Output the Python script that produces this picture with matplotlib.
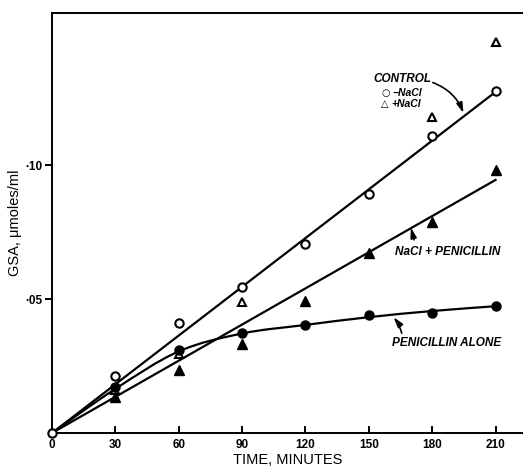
import numpy as np
import matplotlib
matplotlib.use("Agg")
import matplotlib.pyplot as plt
from matplotlib.path import Path
from matplotlib.patches import PathPatch

plt.rcParams['font.family'] = ['Liberation Sans', 'DejaVu Sans']

# ---- data ----
times = [0, 30, 60, 90, 120, 150, 180, 210]
control_minus_nacl = [0.0, 0.0214, 0.0413, 0.0547, 0.0705, 0.0893, 0.1112, 0.1280]
control_plus_nacl_t = [30, 60, 90, 180, 210]
control_plus_nacl = [0.0160, 0.0295, 0.0490, 0.1180, 0.1463]
nacl_pen_t = [30, 60, 90, 120, 150, 180, 210]
nacl_penicillin = [0.0133, 0.0236, 0.0334, 0.0494, 0.0672, 0.0790, 0.0984]
pen_alone_t = [30, 60, 90, 120, 150, 180, 210]
penicillin_alone = [0.0173, 0.0312, 0.0373, 0.0404, 0.0441, 0.0450, 0.0476]

# drawn fit lines/curve
fit_t = [0, 210]
control_fit = [0.0, 0.1275]
nacl_pen_fit = [0.0, 0.0946]
curve_t = [0, 30, 60, 90, 120, 150, 180, 210]
pen_curve = [0.0, 0.0165, 0.0305, 0.0372, 0.0404, 0.0433, 0.0456, 0.0474]

xticks = [0, 30, 60, 90, 120, 150, 180, 210]
yticks = [0.05, 0.10]
ytick_labels = ['·05', '·10']

fig = plt.figure(figsize=(5.23, 4.66), dpi=100)
ax = fig.add_axes([52/523, 33/466, 1 - 52/523, 420/466])
ax.set_xlim(0, 223)
ax.set_ylim(0, 0.157)

lw = 1.6
ax.plot(fit_t, control_fit, color='black', lw=lw, zorder=2)
ax.plot(fit_t, nacl_pen_fit, color='black', lw=lw, zorder=2)

# smooth curve (Catmull-Rom -> cubic Bezier) through the read curve points
pts = np.column_stack([curve_t, pen_curve]).astype(float)
verts = [pts[0]]
codes = [Path.MOVETO]
n = len(pts)
for i in range(n - 1):
    p0 = pts[i - 1] if i > 0 else pts[i]
    p1 = pts[i]
    p2 = pts[i + 1]
    p3 = pts[i + 2] if i + 2 < n else pts[i + 1]
    c1 = p1 + (p2 - p0) / 6.0
    c2 = p2 - (p3 - p1) / 6.0
    verts += [c1, c2, p2]
    codes += [Path.CURVE4] * 3
ax.add_patch(PathPatch(Path(verts, codes), facecolor='none', edgecolor='black', lw=lw, zorder=2))

ax.plot(control_plus_nacl_t, control_plus_nacl, linestyle='none', marker='^', ms=6,
        mfc='white', mec='black', mew=1.5, zorder=3, clip_on=False)
ax.plot(times, control_minus_nacl, linestyle='none', marker='o', ms=6,
        mfc='white', mec='black', mew=1.5, zorder=4, clip_on=False)
ax.plot(nacl_pen_t, nacl_penicillin, linestyle='none', marker='^', ms=6.5,
        color='black', zorder=5)
ax.plot(pen_alone_t, penicillin_alone, linestyle='none', marker='o', ms=6.5,
        color='black', zorder=5)

# spines and ticks
ax.spines['right'].set_visible(False)
for s in ['left', 'top', 'bottom']:
    ax.spines[s].set_linewidth(1.4)
ax.set_xticks(xticks)
ax.set_xticklabels([str(t) for t in xticks], fontsize=8.5, fontweight='bold')
ax.set_yticks(yticks)
ax.set_yticklabels(ytick_labels, fontsize=8.5, fontweight='bold')
ax.tick_params(axis='x', direction='in', length=5, width=1.4, pad=4)
ax.tick_params(axis='y', direction='out', length=5, width=1.4, pad=2)

ax.set_xlabel('TIME, MINUTES', fontsize=10.5, labelpad=2)
ax.set_ylabel('GSA, μmoles/ml', fontsize=10.5, labelpad=2)

# annotations
tk = dict(fontsize=8.5, fontweight='bold', style='italic', va='center', ha='left')
ax.text(152.1, 0.1322, 'CONTROL', **tk)
sym = dict(fontsize=7, fontweight='bold', va='center', ha='center', family='DejaVu Sans')
ax.text(158.2, 0.1271, '○', **sym)
ax.text(157.5, 0.1230, '△', **sym)
sub = dict(fontsize=7.5, fontweight='bold', style='italic', va='center', ha='left')
ax.text(161.1, 0.1271, '−NaCl', **sub)
ax.text(160.6, 0.1230, '+NaCl', **sub)
ax.text(162.5, 0.0678, 'NaCl + PENICILLIN', **tk)
ax.text(160.9, 0.0335, 'PENICILLIN ALONE', **tk)

ap = dict(arrowstyle='-|>,head_length=0.6,head_width=0.18', color='black', lw=1.2,
          shrinkA=0, shrinkB=0)
ax.annotate('', xy=(194.8, 0.1196), xytext=(180.3, 0.1310),
            arrowprops=dict(connectionstyle='arc3,rad=-0.22', **ap))
ax.annotate('', xy=(169.9, 0.0768), xytext=(171.4, 0.0722),
            arrowprops=dict(connectionstyle='arc3,rad=0', **ap))
ax.annotate('', xy=(161.7, 0.0433), xytext=(165.6, 0.0373),
            arrowprops=dict(connectionstyle='arc3,rad=0.1', **ap))

fig.savefig('out.png', dpi=100)
